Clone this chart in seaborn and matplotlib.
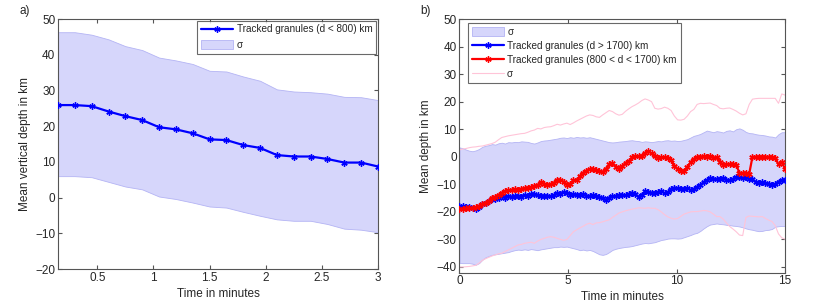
import numpy as np
import pandas as pd
import matplotlib
matplotlib.use("Agg")
import matplotlib.pyplot as plt
import seaborn as sns

# ---- panel a data (minutes, km) ----
time_a = [0.15, 0.30, 0.45, 0.60, 0.75, 0.90, 1.05, 1.20, 1.35, 1.50,
          1.65, 1.80, 1.95, 2.10, 2.25, 2.40, 2.55, 2.70, 2.85, 3.00]
mean_a = [25.9, 25.9, 25.6, 24.1, 22.8, 21.7, 19.7, 19.1, 18.0, 16.3,
          16.1, 14.7, 13.9, 11.9, 11.5, 11.5, 10.8, 9.8, 9.8, 8.7]
upper_a = [46.3, 46.3, 45.6, 44.3, 42.4, 41.3, 39.2, 38.4, 37.4, 35.5,
           35.3, 33.9, 32.7, 30.3, 29.7, 29.5, 29.1, 28.2, 28.1, 27.3]
lower_a = [6.0, 6.0, 5.7, 4.4, 3.1, 2.3, 0.3, -0.4, -1.4, -2.5,
           -2.8, -4.0, -5.1, -6.1, -6.5, -6.5, -7.4, -8.7, -9.0, -9.7]

# ---- panel b data: 101 samples, 0.15 min apart ----
time_b = np.linspace(0, 15, 101)
mean_red = [-18.9, -18.8, -18.7, -18.7, -18.5, -18.3, -18.0, -17.2, -16.6, -16.0,
            -14.8, -14.5, -13.8, -13.0, -12.5, -12.2, -12.0, -11.8, -11.9, -11.6,
            -11.5, -11.3, -11.0, -10.5, -10.2, -9.2, -9.8, -10.1, -9.9, -9.4,
            -8.3, -8.6, -9.0, -10.2, -9.7, -8.6, -8.3, -7.0, -5.8, -5.0,
            -4.6, -4.5, -4.7, -5.2, -5.6, -4.3, -2.8, -2.4, -3.6, -4.4,
            -3.4, -2.2, -1.6, -0.2, 0.3, 0.1, 0.2, 1.4, 2.0, 1.2,
            0.1, -0.4, -0.2, -0.1, -0.3, -1.2, -3.2, -4.5, -5.0, -5.1,
            -3.6, -2.0, -0.8, -0.1, 0.0, 0.1, 0.0, 0.3, -0.4, -0.2,
            -1.9, -2.9, -2.7, -2.8, -2.6, -3.0, -5.8, -6.0, -6.0, -6.2,
            0.0, 0.0, 0.0, 0.0, 0.0, 0.0, 0.0, -0.5, -2.8, -1.8,
            -4.4]
mean_blue = [-17.8, -17.9, -18.2, -18.4, -18.6, -19.0, -18.4, -17.3, -16.8, -16.2,
             -15.4, -15.3, -14.9, -14.4, -14.8, -14.2, -14.6, -14.2, -14.1, -14.5,
             -13.8, -14.3, -13.6, -13.5, -14.0, -14.2, -14.3, -14.1, -14.4, -13.9,
             -13.3, -13.4, -12.9, -13.1, -13.7, -13.6, -13.7, -13.8, -13.6, -14.1,
             -14.2, -14.0, -14.4, -14.6, -15.0, -15.8, -14.8, -14.3, -14.2, -14.0,
             -13.8, -14.0, -13.5, -13.0, -13.6, -14.6, -13.7, -12.6, -12.9, -13.2,
             -13.0, -12.8, -12.6, -13.2, -12.9, -11.8, -11.2, -11.4, -11.6, -11.7,
             -11.5, -12.0, -11.7, -10.9, -10.2, -9.2, -8.6, -7.6, -7.9, -8.1,
             -7.9, -7.6, -8.3, -8.6, -8.2, -7.5, -7.2, -7.8, -7.5, -8.0,
             -8.2, -9.2, -9.4, -9.3, -9.6, -9.7, -10.2, -10.0, -9.0, -8.4,
             -8.5]
upper_blue = [3.4, 3.1, 2.6, 2.2, 2.0, 2.3, 2.8, 3.6, 4.0, 4.2,
              4.6, 4.4, 4.9, 5.1, 4.8, 5.3, 5.2, 5.4, 5.3, 5.6,
              5.5, 5.4, 5.0, 4.8, 5.2, 5.7, 5.9, 6.0, 6.2, 6.4,
              6.6, 6.9, 7.0, 6.8, 7.1, 6.9, 7.2, 7.0, 7.1, 6.9,
              7.1, 6.8, 6.5, 6.2, 5.9, 5.6, 5.3, 5.2, 5.3, 5.5,
              5.6, 5.7, 5.9, 6.0, 5.8, 5.7, 5.4, 5.6, 5.5, 5.3,
              5.5, 5.7, 5.6, 5.9, 6.0, 5.8, 5.9, 5.7, 5.8, 6.1,
              6.4, 7.0, 7.6, 7.9, 8.3, 8.9, 9.5, 9.2, 8.9, 9.3,
              9.1, 8.8, 9.4, 9.6, 9.2, 10.0, 10.3, 9.8, 9.0, 8.6,
              8.5, 8.2, 8.0, 7.9, 7.7, 7.4, 7.3, 7.0, 8.2, 8.9,
              8.9]
lower_blue = [-38.5, -38.6, -38.6, -38.6, -38.8, -39.2, -38.6, -37.4, -36.5, -36.0,
              -35.6, -35.4, -35.2, -35.0, -34.8, -34.6, -34.2, -33.9, -33.7, -33.8,
              -33.6, -33.8, -33.5, -33.7, -33.9, -33.6, -33.4, -33.2, -33.0, -32.8,
              -32.8, -32.6, -32.7, -32.6, -32.9, -33.2, -33.5, -33.9, -33.7, -34.0,
              -33.8, -34.2, -34.8, -35.4, -35.6, -35.3, -34.6, -33.8, -33.4, -33.1,
              -32.9, -32.7, -32.6, -32.4, -32.1, -31.8, -31.5, -31.3, -31.4, -31.2,
              -31.0, -30.6, -30.2, -30.0, -29.7, -29.6, -29.6, -29.7, -29.6, -29.2,
              -28.8, -28.4, -27.9, -27.6, -26.9, -26.0, -25.2, -24.6, -24.4, -24.2,
              -24.4, -24.5, -24.7, -24.8, -25.0, -25.1, -25.3, -25.6, -26.0, -26.3,
              -26.5, -26.8, -27.0, -26.9, -26.6, -26.5, -26.2, -25.4, -25.2, -25.1,
              -25.1]
upper_pink = [2.5, 2.8, 3.0, 3.3, 3.5, 3.6, 3.8, 3.9, 4.2, 4.5,
              4.8, 5.3, 6.2, 7.0, 7.3, 7.6, 7.8, 8.0, 8.2, 8.4,
              8.5, 8.9, 9.4, 9.7, 10.3, 10.1, 10.6, 10.8, 10.9, 11.3,
              11.8, 11.5, 11.9, 12.2, 11.7, 12.3, 13.0, 13.6, 14.2, 14.8,
              15.2, 15.0, 14.5, 14.3, 15.2, 16.0, 16.8, 16.4, 15.6, 15.1,
              15.4, 16.5, 17.4, 18.2, 18.8, 19.5, 20.4, 21.0, 20.6, 20.0,
              17.6, 17.3, 17.5, 18.0, 17.6, 16.8, 14.8, 13.4, 13.3, 13.6,
              14.8, 16.4, 17.2, 19.0, 19.4, 19.3, 19.4, 19.5, 19.0, 18.6,
              17.6, 17.4, 17.6, 17.7, 17.2, 16.6, 15.8, 15.2, 15.6, 19.0,
              20.9, 21.1, 21.2, 21.2, 21.2, 21.2, 21.2, 21.2, 19.4, 22.8,
              22.4]
lower_pink = [-40.0, -40.0, -39.9, -39.8, -39.6, -39.4, -38.6, -37.6, -37.0, -36.5,
              -36.0, -35.6, -35.2, -35.0, -34.4, -33.8, -33.2, -32.6, -32.0, -31.8,
              -31.4, -31.2, -31.0, -31.4, -30.6, -30.0, -29.6, -29.2, -29.0, -29.2,
              -29.6, -30.0, -30.3, -30.0, -28.6, -27.2, -26.5, -25.8, -25.2, -24.5,
              -24.1, -24.6, -24.0, -23.9, -23.6, -23.2, -22.9, -22.0, -21.2, -20.4,
              -20.0, -19.6, -19.3, -19.0, -18.8, -18.5, -18.6, -18.7, -18.5, -18.7,
              -18.7, -19.2, -20.0, -21.0, -21.8, -22.3, -22.6, -22.4, -21.6, -20.8,
              -20.4, -20.0, -19.9, -19.9, -19.7, -19.5, -19.6, -20.0, -20.8, -21.7,
              -21.7, -22.6, -24.0, -25.3, -26.2, -27.2, -28.4, -28.6, -22.0, -21.5,
              -21.6, -21.7, -21.8, -21.7, -22.4, -23.0, -23.5, -25.0, -28.0, -29.4,
              -29.9]

label_a = "Tracked granules (d < 800) km"
label_blue = "Tracked granules (d > 1700) km"
label_red = "Tracked granules (800 < d < 1700) km"

BAND = "#d6d6fb"
BAND_EDGE = "#b4b4f4"
PINK = "#ffc4d8"
STAR = (6, 2, 0)   # matlab-like asterisk marker

sns.set_style("ticks")
plt.rcParams["font.family"] = ["Liberation Sans", "DejaVu Sans"]
plt.rcParams["font.size"] = 8.5
plt.rcParams["axes.edgecolor"] = "#555555"
plt.rcParams["axes.linewidth"] = 0.8


def style_axes(ax):
    ax.tick_params(direction="in", top=True, right=True, length=3,
                   color="#555555", labelsize=8.5, pad=2)
    for s in ax.spines.values():
        s.set_visible(True)


fig = plt.figure(figsize=(8.3, 3.04), dpi=100)
ax1 = fig.add_axes([0.0699, 0.1151, 0.3855, 0.8224])
ax2 = fig.add_axes([0.5536, 0.1036, 0.3922, 0.8339])

leg_kw = dict(fontsize=7.2, frameon=True, fancybox=False, edgecolor="#444444",
              handlelength=3.2, handleheight=0.9, borderpad=0.4,
              handletextpad=0.35)
line_kw = dict(lw=1.6, marker=STAR, markersize=4.5, markeredgewidth=1.0)

# ---- panel a ----
df_a = pd.DataFrame({"t": time_a, "mean": mean_a, "up": upper_a, "lo": lower_a})
ax1.fill_between(df_a["t"], df_a["lo"], df_a["up"], color=BAND, lw=0.6,
                 edgecolor=BAND_EDGE, label="σ", zorder=1)
sns.lineplot(data=df_a, x="t", y="mean", ax=ax1, color="#0000ff",
             markeredgecolor="#0000ff", label=label_a, zorder=3, **line_kw)
ax1.set_xlim(0.15, 3.0)
ax1.set_ylim(-20, 50)
ax1.set_xticks([0.5, 1, 1.5, 2, 2.5, 3])
ax1.set_xticklabels(["0.5", "1", "1.5", "2", "2.5", "3"])
ax1.set_yticks(range(-20, 51, 10))
ax1.set_yticklabels([f"{v}".replace("-", "\u2212") for v in range(-20, 51, 10)])
ax1.set_xlabel("Time in minutes", labelpad=3)
ax1.set_ylabel("Mean vertical depth in km", labelpad=3)
style_axes(ax1)
h, l = ax1.get_legend_handles_labels()
order = [l.index(label_a), l.index("σ")]
leg1 = ax1.legend([h[i] for i in order], [l[i] for i in order], loc="upper right",
                  labelspacing=0.55, borderaxespad=0.15, **leg_kw)
leg1.get_frame().set_linewidth(0.8)

# ---- panel b ----
df_b = pd.DataFrame({"t": time_b, "blue": mean_blue, "red": mean_red,
                     "up_b": upper_blue, "lo_b": lower_blue,
                     "up_p": upper_pink, "lo_p": lower_pink})
ax2.fill_between(df_b["t"], df_b["lo_b"], df_b["up_b"], color=BAND, lw=0.6,
                 edgecolor=BAND_EDGE, label="σ", zorder=1)
sns.lineplot(data=df_b, x="t", y="blue", ax=ax2, color="#0000ff",
             markeredgecolor="#0000ff", label=label_blue, zorder=3, **line_kw)
sns.lineplot(data=df_b, x="t", y="red", ax=ax2, color="#ff0000",
             markeredgecolor="#ff0000", label=label_red, zorder=4, **line_kw)
sns.lineplot(data=df_b, x="t", y="up_p", ax=ax2, color=PINK, lw=0.8,
             label="σ ", zorder=2)
sns.lineplot(data=df_b, x="t", y="lo_p", ax=ax2, color=PINK, lw=0.8,
             legend=False, zorder=2)
ax2.set_xlim(0, 15)
ax2.set_ylim(-42, 50)
ax2.set_xticks([0, 5, 10, 15])
ax2.set_yticks(range(-40, 51, 10))
ax2.set_yticklabels([f"{v}".replace("-", "\u2212") for v in range(-40, 51, 10)])
ax2.set_xlabel("Time in minutes", labelpad=3)
ax2.set_ylabel("Mean depth in km", labelpad=3)
style_axes(ax2)
leg2 = ax2.legend(loc="upper left", labelspacing=0.4, borderaxespad=0.0,
                  bbox_to_anchor=(0.025, 0.985), **leg_kw)
leg2.get_frame().set_linewidth(0.8)

fig.text(0.024, 0.965, "a)", fontsize=8.5, va="center", ha="left")
fig.text(0.506, 0.965, "b)", fontsize=8.5, va="center", ha="left")

fig.savefig("out.png", dpi=100)
